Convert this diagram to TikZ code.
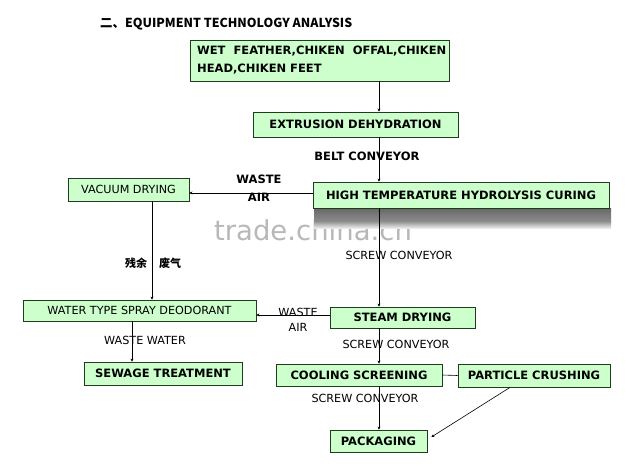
\documentclass[tikz,border=0pt]{standalone}
\usepackage{fontspec}
\setmainfont{DejaVu Sans}
\newfontfamily\cjk{Noto Sans CJK SC}
\usetikzlibrary{arrows.meta,calc}
\definecolor{boxfill}{RGB}{204,255,204}
\definecolor{boxline}{RGB}{30,60,30}
\tikzset{
  x=1pt,y=-1pt,
  box/.style={draw=boxline,fill=boxfill,line width=0.8pt,inner sep=0pt,anchor=center},
  bt/.style={font=\fontsize{11.5}{13}\selectfont\bfseries},
  nt/.style={font=\fontsize{11.2}{13}\selectfont},
  lbl/.style={inner sep=0pt,anchor=center},
  conn/.style={draw=black,line width=0.6pt},
  arr/.style={conn,-{Stealth[length=3pt,width=3pt]}},
}
\begin{document}
\begin{tikzpicture}
\useasboundingbox (0,0) rectangle (627,475);
\fill[white] (0,0) rectangle (627,475);
% title
\node[lbl,anchor=west,font=\cjk\fontsize{12.4}{14}\selectfont\bfseries] (title) at (100,24) {二、EQUIPMENT TECHNOLOGY ANALYSIS};
% watermark
\node[lbl,text=black!28,font=\fontsize{27.5}{30}\selectfont] (wm) at (313,230) {trade.china.cn};
% shadow under b3
\shade[top color=black!60,bottom color=black!45] (314,208) rectangle (611,221);
\shade[top color=black!45,bottom color=black!8] (314,221) rectangle (611,228);
% boxes
\node[box,minimum width=259,minimum height=41] (b1) at (319.5,60.5) {};
\node[lbl,bt,anchor=north west,align=left,font=\fontsize{11.5}{18}\selectfont\bfseries] (b1t) at (197,46) {WET\ \ FEATHER,CHIKEN\ \ OFFAL,CHIKEN\\HEAD,CHIKEN FEET};
\node[box,bt,minimum width=205,minimum height=25] (b2) at (355.5,124.5) {EXTRUSION DEHYDRATION};
\node[box,bt,minimum width=296,minimum height=26] (b3) at (461,195) {HIGH TEMPERATURE HYDROLYSIS CURING};
\node[box,nt,minimum width=121,minimum height=23] (b4) at (128.5,189.5) {VACUUM DRYING};
\node[box,nt,minimum width=233,minimum height=21] (b5) at (139.5,310.5) {WATER TYPE SPRAY DEODORANT};
\node[box,bt,minimum width=145,minimum height=21] (b6) at (402.5,317.5) {STEAM DRYING};
\node[box,bt,minimum width=158,minimum height=23] (b7) at (163,373.5) {SEWAGE TREATMENT};
\node[box,bt,minimum width=166,minimum height=22] (b8) at (359,375) {COOLING SCREENING};
\node[box,bt,minimum width=152,minimum height=23] (b9) at (534,375.5) {PARTICLE CRUSHING};
\node[box,bt,minimum width=97,minimum height=22] (b10) at (378.5,441) {PACKAGING};
% helper coordinates
\coordinate (mx) at (379,0);
\coordinate (vx) at (152,0);
\coordinate (wx) at (132,0);
\coordinate (ya) at (0,193);
\coordinate (yb) at (0,315);
\coordinate (pc) at (510,0);
\coordinate (pk) at (0,437);
% connectors
\draw[arr] (b1.south -| mx) -- (b2.north -| mx);
\draw[arr] (b2.south -| mx) -- (b3.north -| mx);
\draw[arr] (b3.west |- ya) -- (b4.east |- ya);
\draw[arr] (b3.south -| mx) -- (b6.north -| mx);
\draw[arr] (b4.south -| vx) -- (b5.north -| vx);
\draw[arr] (b6.west |- yb) -- (b5.east |- yb);
\draw[arr] (b5.south -| wx) -- (b7.north -| wx);
\draw[arr] (b6.south -| mx) -- (b8.north -| mx);
\draw[conn] (b8.east) -- (b9.west);
\draw[arr] (b8.south -| mx) -- (b10.north -| mx);
\draw[arr] (b9.south -| pc) -- ($(b10.east |- pk)+(4,0)$);
% labels
\node[lbl,bt] (l1) at (367,156) {BELT CONVEYOR};
\node[lbl,bt] (l2) at (259,179) {WASTE};
\node[lbl,bt] (l3) at (259,197) {AIR};
\node[lbl,font=\cjk\fontsize{11}{13}\selectfont\bfseries] (l4) at (136,263) {残余};
\node[lbl,font=\cjk\fontsize{11}{13}\selectfont\bfseries] (l5) at (170,263) {废气};
\node[lbl,nt] (l6) at (399,255) {SCREW CONVEYOR};
\node[lbl,nt] (l7) at (298,312) {WASTE};
\node[lbl,nt] (l8) at (298,327) {AIR};
\node[lbl,nt] (l9) at (145,340) {WASTE WATER};
\node[lbl,nt] (l10) at (396,344) {SCREW CONVEYOR};
\node[lbl,nt] (l11) at (365,398) {SCREW CONVEYOR};
\end{tikzpicture}
\end{document}
